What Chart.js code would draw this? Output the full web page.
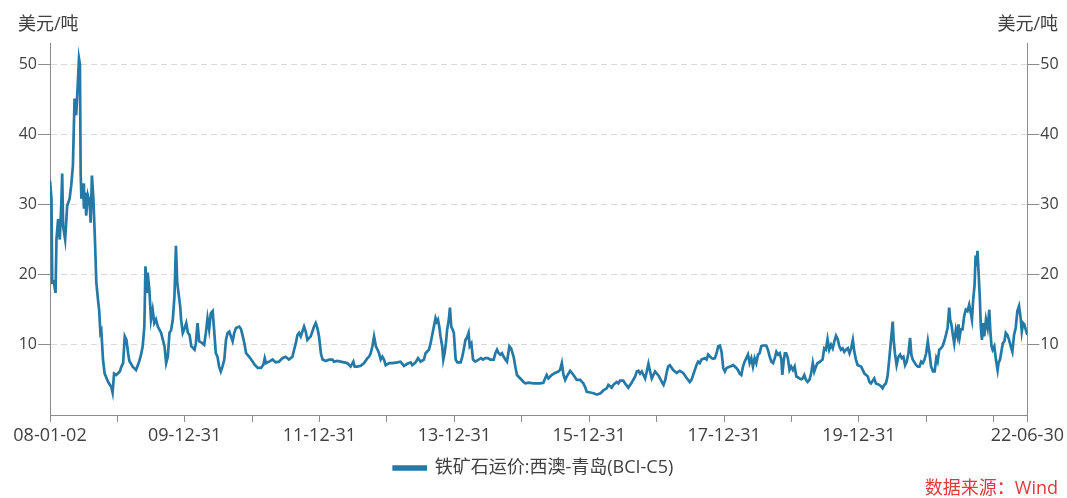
<!DOCTYPE html>
<html>
<head>
<meta charset="utf-8">
<script src="https://cdn.jsdelivr.net/npm/chart.js@4.4.1/dist/chart.umd.min.js"></script>
<style>
html,body{margin:0;padding:0;background:#fff;}
#wrap{position:relative;width:1067px;height:498px;font-family:"Open Sans","Noto Sans CJK SC",sans-serif;color:#404040;}
.unit{position:absolute;top:11px;font-size:18px;line-height:24px;}
#src{position:absolute;right:9px;top:475px;font-size:18px;line-height:24px;color:#e0393b;}
</style>
</head>
<body>
<div id="wrap">
<canvas id="chart" width="1067" height="498"></canvas>
<div class="unit" style="left:18px">美元/吨</div>
<div class="unit" style="right:9px">美元/吨</div>
<div id="src">数据来源：Wind</div>
</div>
<script>
// 铁矿石运价:西澳-青岛(BCI-C5), USD/ton, values
const dates = [
'2008-01-02','2008-01-10','2008-01-14','2008-01-22','2008-02-01','2008-02-06','2008-02-15','2008-02-24','2008-03-03','2008-03-08','2008-03-13','2008-03-24','2008-04-04','2008-04-17','2008-04-26','2008-05-05','2008-05-14','2008-05-23','2008-06-01','2008-06-07','2008-06-12','2008-06-16','2008-06-20','2008-06-29','2008-07-04','2008-07-11','2008-07-16','2008-07-25','2008-08-04','2008-08-09','2008-08-16','2008-08-24','2008-08-31','2008-09-09','2008-09-18','2008-09-24','2008-10-01','2008-10-06','2008-10-15','2008-10-24','2008-11-12','2008-11-29','2008-12-06','2008-12-14','2008-12-26',
'2009-01-14','2009-01-23','2009-02-01','2009-02-10','2009-02-19','2009-02-28','2009-03-07','2009-03-25','2009-04-12','2009-04-30','2009-05-09','2009-05-18','2009-05-27','2009-06-02','2009-06-09','2009-06-14','2009-06-23','2009-07-02','2009-07-11','2009-07-20','2009-07-29','2009-08-08','2009-08-26','2009-09-13','2009-09-22','2009-10-01','2009-10-10','2009-10-19','2009-10-28','2009-11-06','2009-11-14','2009-11-21','2009-11-28','2009-12-07','2009-12-12','2009-12-21','2009-12-30',
'2010-01-09','2010-01-18','2010-01-27','2010-02-05','2010-02-23','2010-03-02','2010-03-11','2010-03-20','2010-04-08','2010-04-16','2010-04-25','2010-05-04','2010-05-13','2010-05-22','2010-06-01','2010-06-10','2010-06-18','2010-06-27','2010-07-06','2010-07-15','2010-07-24','2010-08-03','2010-08-12','2010-08-21','2010-08-30','2010-09-08','2010-09-17','2010-09-26','2010-10-05','2010-10-23','2010-11-02','2010-11-11','2010-11-20','2010-11-29','2010-12-16',
'2011-01-04','2011-01-13','2011-01-31','2011-02-18','2011-03-03','2011-03-10','2011-03-17','2011-04-03','2011-04-21','2011-05-08','2011-05-26','2011-06-14','2011-07-01','2011-07-19','2011-08-07','2011-08-16','2011-08-25','2011-09-03','2011-09-12','2011-09-21','2011-09-30','2011-10-09','2011-10-18','2011-10-27','2011-11-14','2011-11-23','2011-12-02','2011-12-11','2011-12-20','2011-12-29',
'2012-01-08','2012-01-17','2012-02-04','2012-02-22','2012-03-10','2012-03-19','2012-04-06','2012-04-24','2012-05-12','2012-05-30','2012-06-17','2012-07-02','2012-07-09','2012-07-23','2012-08-11','2012-08-29','2012-09-16','2012-09-25','2012-10-04','2012-10-13','2012-10-22','2012-11-01','2012-11-10','2012-11-18','2012-11-27','2012-12-06','2012-12-15','2012-12-24',
'2013-01-12','2013-01-30','2013-02-26','2013-03-14','2013-04-02','2013-04-20','2013-05-08','2013-05-17','2013-06-04','2013-06-17','2013-07-01','2013-07-19','2013-07-28','2013-08-15','2013-08-24','2013-09-02','2013-09-11','2013-09-20','2013-09-26','2013-10-03','2013-10-10','2013-10-17','2013-10-26','2013-11-01','2013-11-08','2013-11-15','2013-11-22','2013-12-01','2013-12-07','2013-12-14','2013-12-21','2013-12-28',
'2014-01-07','2014-01-16','2014-02-03','2014-02-12','2014-02-21','2014-03-01','2014-03-09','2014-03-18','2014-03-24','2014-04-02','2014-04-11','2014-04-23','2014-05-11','2014-05-24','2014-06-04','2014-06-16','2014-06-29','2014-07-13','2014-08-01','2014-08-10','2014-08-19','2014-08-28','2014-09-06','2014-09-15','2014-09-24','2014-10-03','2014-10-12','2014-10-25','2014-11-03','2014-11-17','2014-11-26','2014-12-05','2014-12-23',
'2015-01-10','2015-01-19','2015-02-07','2015-03-04','2015-04-09','2015-04-27','2015-05-06','2015-05-15','2015-05-24','2015-06-11','2015-06-29','2015-07-17','2015-07-26','2015-08-05','2015-08-14','2015-08-23','2015-09-01','2015-09-19','2015-10-07','2015-10-25','2015-11-12','2015-11-30','2015-12-09','2015-12-18',
'2016-01-06','2016-01-24','2016-02-11','2016-03-01','2016-03-17','2016-04-04','2016-04-13','2016-05-01','2016-05-10','2016-05-28','2016-06-06','2016-06-15','2016-07-03','2016-07-12','2016-07-30','2016-08-17','2016-09-05','2016-09-14','2016-09-23','2016-10-02','2016-10-11','2016-10-29','2016-11-07','2016-11-16','2016-11-25','2016-12-04','2016-12-22',
'2017-01-10','2017-01-28','2017-02-06','2017-02-15','2017-02-24','2017-03-03','2017-03-12','2017-03-30','2017-04-17','2017-05-05','2017-05-23','2017-06-10','2017-06-28','2017-07-07','2017-07-25','2017-08-03','2017-08-12','2017-08-21','2017-08-30','2017-09-18','2017-09-27','2017-10-06','2017-10-24','2017-11-02','2017-11-11','2017-11-20','2017-11-29','2017-12-08','2017-12-17','2017-12-26',
'2018-01-04','2018-01-13','2018-02-01','2018-02-19','2018-03-07','2018-03-16','2018-03-25','2018-04-03','2018-04-12','2018-04-21','2018-04-30','2018-05-09','2018-05-18','2018-05-27','2018-06-05','2018-06-14','2018-06-23','2018-07-02','2018-07-11','2018-07-20','2018-07-29','2018-08-16','2018-08-25','2018-09-04','2018-09-13','2018-09-22','2018-10-01','2018-10-10','2018-10-19','2018-10-28','2018-11-06','2018-11-11','2018-11-18','2018-11-25','2018-12-02','2018-12-11','2018-12-20','2018-12-29',
'2019-01-08','2019-01-17','2019-01-26','2019-02-13','2019-02-22','2019-03-01','2019-03-10','2019-03-19','2019-03-28','2019-04-07','2019-04-16','2019-04-25','2019-05-03','2019-05-12','2019-05-21','2019-05-30','2019-06-17','2019-06-26','2019-07-05','2019-07-14','2019-07-23','2019-08-02','2019-08-11','2019-08-20','2019-08-29','2019-09-07','2019-09-16','2019-09-25','2019-10-04','2019-10-13','2019-10-22','2019-11-01','2019-11-10','2019-11-19','2019-11-28','2019-12-06','2019-12-15','2019-12-24',
'2020-01-12','2020-01-21','2020-01-30','2020-02-08','2020-02-17','2020-02-26','2020-03-05','2020-03-23','2020-04-01','2020-04-19','2020-04-28','2020-05-07','2020-05-16','2020-05-25','2020-06-03','2020-06-12','2020-06-21','2020-07-01','2020-07-06','2020-07-13','2020-07-22','2020-08-01','2020-08-10','2020-08-19','2020-08-28','2020-09-06','2020-09-15','2020-09-24','2020-10-03','2020-10-10','2020-10-17','2020-11-05','2020-11-14','2020-11-23','2020-12-02','2020-12-11','2020-12-20','2020-12-29',
'2021-01-07','2021-01-16','2021-01-25','2021-02-04','2021-02-13','2021-02-22','2021-03-01','2021-03-10','2021-03-19','2021-03-28','2021-04-06','2021-04-15','2021-04-24','2021-05-03','2021-05-08','2021-05-15','2021-05-21','2021-05-30','2021-06-08','2021-06-17','2021-06-22','2021-06-29','2021-07-05','2021-07-14','2021-07-23','2021-08-01','2021-08-10','2021-08-19','2021-08-26','2021-09-03','2021-09-10','2021-09-17','2021-09-23','2021-09-28','2021-10-03','2021-10-09','2021-10-16','2021-10-21','2021-10-27','2021-11-04','2021-11-09','2021-11-18','2021-11-27','2021-12-06','2021-12-11','2021-12-18','2021-12-24',
'2022-01-02','2022-01-11','2022-01-20','2022-01-25','2022-02-02','2022-02-08','2022-02-17','2022-02-26','2022-03-05','2022-03-14','2022-03-23','2022-04-01','2022-04-10','2022-04-19','2022-04-28','2022-05-07','2022-05-16','2022-05-25','2022-05-31','2022-06-07','2022-06-14','2022-06-21','2022-06-30'
]

const freight = [
33.4,30.8,18.9,19.0,17.4,25.0,27.9,25.0,30.0,34.4,26.9,25.0,29.8,30.8,32.7,35.5,45.1,42.7,47.5,50.8,50.0,34.6,30.8,33.0,29.4,31.7,28.4,31.3,30.3,27.4,34.1,30.8,26.0,18.9,16.4,15.0,11.7,12.0,7.9,5.9,4.7,4.0,3.2,5.9,5.7,
6.2,6.9,7.4,11.2,10.7,8.8,7.7,6.9,6.4,7.7,8.6,9.8,12.6,21.2,17.4,20.3,17.9,13.6,15.0,13.1,13.6,12.6,11.7,9.8,7.4,8.3,11.7,12.1,13.6,16.9,24.1,18.9,17.4,15.5,13.6,11.7,12.3,
13.1,11.7,11.4,9.8,9.3,10.2,13.1,10.5,10.2,10.0,11.7,13.8,12.2,14.5,14.8,11.7,8.8,8.3,6.9,6.2,6.9,7.9,10.7,11.7,11.9,11.2,10.5,11.7,12.4,12.6,12.2,11.2,10.2,8.8,8.3,
7.6,7.2,6.7,6.7,7.2,8.1,7.4,7.6,7.9,7.5,7.6,8.1,8.3,7.9,8.3,9.3,10.2,11.4,11.7,11.2,11.9,12.6,11.9,10.7,11.2,11.9,12.6,13.1,12.4,11.2,
8.8,7.9,7.7,7.9,7.9,7.6,7.7,7.6,7.5,7.4,6.9,7.6,6.9,6.9,7.0,7.4,8.1,8.3,8.8,9.8,11.2,9.8,9.3,8.8,7.9,8.3,7.9,7.1,
7.4,7.4,7.5,7.6,7.0,7.3,7.5,7.1,7.5,8.1,7.6,7.9,8.8,9.3,10.2,11.4,12.6,13.8,13.3,13.6,12.6,11.2,9.8,7.9,8.8,10.2,12.2,13.6,15.3,12.6,12.2,11.7,
7.9,7.5,7.5,8.3,9.5,10.7,11.0,11.7,9.8,10.2,7.9,7.6,7.9,8.1,7.9,8.1,8.1,7.9,7.9,8.8,9.3,8.8,8.6,8.8,8.3,7.9,7.6,9.8,9.5,8.3,6.9,5.7,5.2,
4.7,4.5,4.6,4.5,4.5,4.6,5.2,5.7,5.2,5.7,6.0,6.2,6.4,7.4,5.7,5.0,5.5,6.3,5.7,5.0,5.0,4.5,4.0,3.3,
3.2,3.1,2.9,3.1,3.5,3.8,4.3,3.9,4.3,4.7,4.5,4.9,4.9,4.5,3.9,4.6,5.5,6.2,6.3,5.9,6.2,5.2,6.2,7.3,6.2,5.2,6.2,
5.6,4.7,4.3,5.0,6.2,6.9,7.1,6.4,6.0,6.3,6.0,5.3,4.7,5.0,6.4,7.1,7.6,7.4,7.9,8.1,7.9,8.6,8.1,8.0,8.1,8.8,9.8,9.9,9.0,6.7,
6.2,6.7,6.9,7.1,6.7,6.4,5.9,5.7,6.9,7.6,8.1,8.6,7.4,8.1,6.9,8.1,7.4,8.6,8.8,9.8,9.9,9.9,9.3,8.3,7.6,7.4,8.1,9.0,8.6,8.8,7.9,5.7,7.6,8.8,8.8,8.1,6.4,6.9,
6.4,6.9,5.5,5.2,5.1,5.2,5.7,5.0,4.7,5.0,5.9,7.4,6.2,6.9,7.4,7.5,7.9,9.5,9.3,10.8,9.3,10.0,9.5,10.5,11.3,10.8,9.8,9.3,9.5,9.0,9.3,9.5,8.8,9.5,10.7,9.0,7.9,7.1,
6.9,6.4,5.9,5.7,5.5,4.7,4.5,5.2,4.5,4.3,4.1,3.8,4.3,4.5,5.5,7.9,10.5,13.3,10.7,8.8,7.1,8.3,8.6,8.1,8.3,7.1,7.6,8.8,11.0,8.6,7.9,7.1,6.9,6.9,7.6,7.4,7.9,8.8,
10.5,8.8,6.9,6.2,6.2,8.1,7.6,9.3,9.5,9.8,10.5,11.4,12.4,15.3,13.6,12.9,11.7,10.2,12.2,11.2,12.9,11.2,12.2,12.2,14.1,15.0,14.8,15.7,14.8,13.6,16.5,18.4,22.7,21.2,23.4,20.3,16.5,12.6,10.7,13.1,11.2,13.6,12.4,15.0,12.2,9.8,9.3,
9.8,7.9,6.4,7.4,7.9,8.8,10.2,10.5,11.7,11.4,10.7,9.8,9.0,11.4,12.4,14.8,15.5,13.8,11.9,13.1,12.9,12.2,11.4
]

// x axis tick marks (year ends) and the ones that carry a label
const tickDates = ['2008-01-02','2008-12-31','2009-12-31','2010-12-31','2011-12-31','2012-12-31','2013-12-31','2014-12-31','2015-12-31','2016-12-31','2017-12-31','2018-12-31','2019-12-31','2020-12-31','2021-12-31','2022-06-30']
const tickLabels = ['2008-01-02','2009-12-31','2011-12-31','2013-12-31','2015-12-31','2017-12-31','2019-12-31','2022-06-30']

// y axis ticks
const yTicks = [10,20,30,40,50]

const seriesName = '铁矿石运价:西澳-青岛(BCI-C5)'
const lineColor = '#2479a6'
const axisColor = '#8c8c8c'

const points = dates.map((d,i) => ({x: Date.parse(d), y: freight[i]}))

Chart.defaults.font.family = '"Open Sans", "Noto Sans CJK SC", sans-serif'
Chart.defaults.color = '#404040'

function yAxis(side, width){
return {
position: side,
min: 0,
max: 53,
afterBuildTicks: s => { s.ticks = yTicks.map(v => ({value: v})) },
afterFit: s => { s.width = width },
ticks: {font: {size: 16}, padding: 1},
grid: {
drawOnChartArea: side === 'left',
color: '#d9d9d9',
tickColor: axisColor,
tickLength: 12
},
border: {color: axisColor, dash: [6,4]}
}
}

new Chart(document.getElementById('chart'), {
type: 'line',
data: {
datasets: [{
label: seriesName,
data: points,
borderColor: lineColor,
backgroundColor: lineColor,
borderWidth: 2.7,
pointRadius: 0,
tension: 0
}]
},
options: {
responsive: false,
animation: false,
layout: {padding: {top: 43, bottom: 11, left: 0, right: 0}},
scales: {
x: {
type: 'linear',
min: Date.parse(tickDates[0]),
max: Date.parse(tickDates[tickDates.length-1]),
afterBuildTicks: s => { s.ticks = tickDates.map(d => ({value: Date.parse(d)})) },
afterFit: s => { s.height = 36 },
ticks: {
autoSkip: false,
maxRotation: 0,
font: {size: 18},
padding: 3,
callback: v => {
const iso = new Date(v).toISOString().slice(0,10)
return tickLabels.includes(iso) ? iso.slice(2) : ''
}
},
grid: {drawOnChartArea: false, tickColor: axisColor, tickLength: 7},
border: {color: axisColor}
},
y: yAxis('left', 50),
y2: yAxis('right', 39)
},
plugins: {
legend: {
position: 'bottom',
labels: {boxWidth: 32, boxHeight: 3, padding: 8, font: {size: 18}, color: '#404040'}
},
tooltip: {enabled: false}
}
}
})
</script>
</body>
</html>
